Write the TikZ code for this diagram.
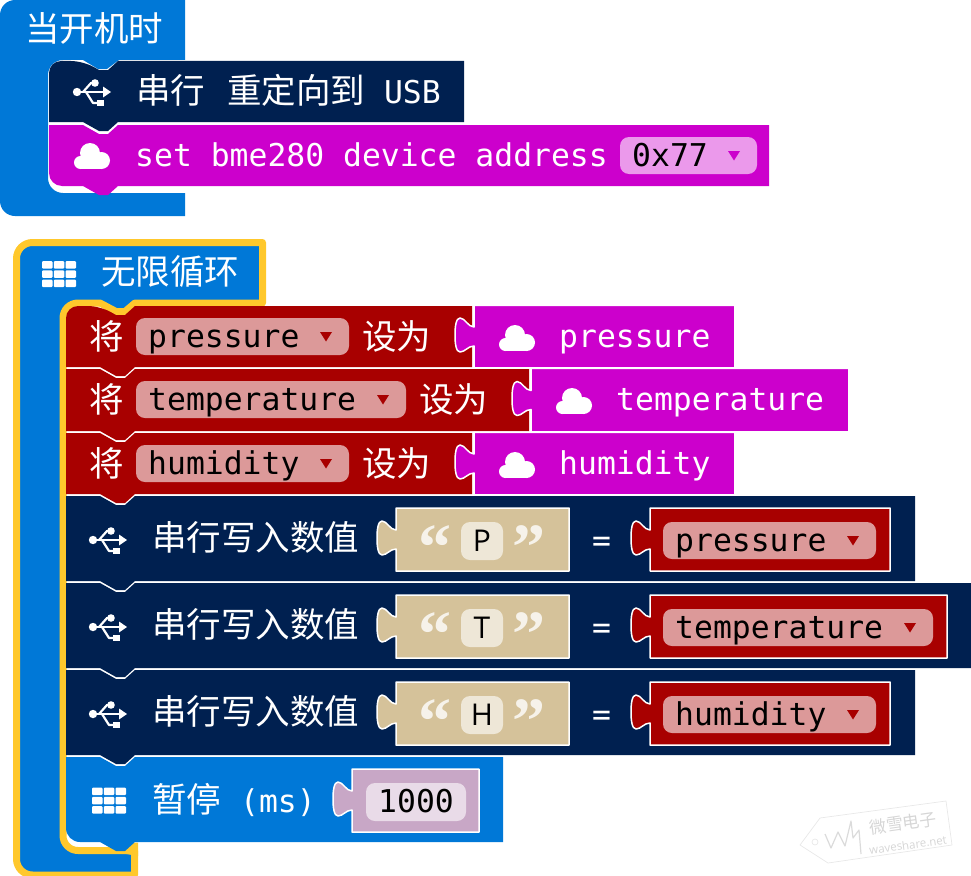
\documentclass[tikz,border=0pt]{standalone}
\usepackage{fontspec}
\setmonofont{DejaVu Sans Mono}
\setsansfont{Open Sans}
\newfontfamily\cjk{Noto Sans CJK SC}
\newfontfamily\quotefont{Liberation Serif}
\definecolor{hatblue}{HTML}{0078D7}
\definecolor{loopyellow}{HTML}{FFC82C}
\definecolor{usbnavy}{HTML}{002050}
\definecolor{varred}{HTML}{A80000}
\definecolor{varfield}{HTML}{DC9999}
\definecolor{cloudpink}{HTML}{CC00CC}
\definecolor{cloudfield}{HTML}{EB99EB}
\definecolor{texttan}{HTML}{D5C29A}
\definecolor{tanfield}{HTML}{EEE7D7}
\definecolor{numpurple}{HTML}{C8A7C6}
\definecolor{numfield}{HTML}{E9DBE8}
\newcommand{\zh}[1]{{\cjk\fontsize{34.5}{36}\selectfont #1}}
\tikzset{
  blocktext/.style={anchor=base west,inner sep=0pt,text=white,font=\ttfamily\fontsize{31.4}{34}\selectfont},
  fieldtext/.style={blocktext,text=black},
  letter/.style={anchor=base,inner sep=0pt,text=black,font=\sffamily\fontsize{30}{34}\selectfont},
  quotemark/.style={anchor=base,inner sep=0pt,text=white,text opacity=0.8,font=\quotefont\bfseries\fontsize{66}{66}\selectfont},
  markfaint/.style={draw=black!9,line width=0.7pt},
  markletter/.style={inner sep=0pt,text=black!16,rotate=8}
}
% stacked block: x, y, w, h, colour, top corner, bottom corner
\newcommand{\stmtblock}[7]{
  \fill[#5] (#1,#2+#4/2) [rounded corners=#6pt] -- (#1,#2) -- (#1+34,#2) [sharp corners] -- (#1+50,#2+9) -- (#1+59,#2+9) -- (#1+69,#2) -- (#1+#3,#2) -- (#1+#3,#2+#4) -- (#1+69,#2+#4) -- (#1+59,#2+#4+9) -- (#1+50,#2+#4+9) -- (#1+34,#2+#4) [rounded corners=#7pt] -- (#1,#2+#4) -- (#1,#2+#4/2) -- cycle;
}
% value block with a puzzle tab: left, top, right, bottom, colour
\newcommand{\valblock}[5]{
  \pgfmathsetmacro{\cy}{(#2+#4)/2}
  \filldraw[fill=#5,draw=white,line width=1.5pt] (#1,#2) -- (#3,#2) -- (#3,#4) -- (#1,#4) -- (#1,\cy+9.5)
    .. controls (#1-6,\cy+9.5) and (#1-9,\cy+15.5) .. (#1-14,\cy+15.5)
    .. controls (#1-18,\cy+15.5) and (#1-19,\cy+7) .. (#1-19,\cy-1.5)
    .. controls (#1-19,\cy-10) and (#1-18,\cy-18.5) .. (#1-14,\cy-18.5)
    .. controls (#1-9,\cy-18.5) and (#1-6,\cy-9.5) .. (#1,\cy-9.5) -- cycle;
}
% dropdown: left, centre y, right, fill, arrow colour, node name, text
\newcommand{\dropfield}[7]{
  \fill[#4,rounded corners=9pt] (#1,#2-18.5) rectangle (#3,#2+18.5);
  \node[fieldtext] (#6) at (#1+12,#2+10.5) {#7};
  \fill[#5] (#3-29,#2-4.5) -- (#3-17,#2-4.5) -- (#3-23,#2+5) -- cycle;
}
\newcommand{\usbicon}[2]{
  \draw[white,line width=2.6pt] (#1-15,#2) -- (#1+12,#2);
  \fill[white] (#1-15,#2) circle (4.2pt);
  \fill[white] (#1+11,#2-5.5) -- (#1+19,#2) -- (#1+11,#2+5.5) -- cycle;
  \draw[white,line width=2.2pt] (#1-9,#2) -- (#1-1,#2-9) -- (#1+3,#2-9);
  \fill[white] (#1+3,#2-9) circle (3.8pt);
  \draw[white,line width=2.2pt] (#1-6,#2) -- (#1+1,#2+11) -- (#1+6,#2+11);
  \fill[white] (#1+5,#2+7.5) rectangle (#1+11.5,#2+14);
}
\newcommand{\cloudicon}[2]{
  \fill[white] (#1-11.5,#2+6.5) circle (6.5pt);
  \fill[white] (#1-2,#2-3) circle (10pt);
  \fill[white] (#1+9.5,#2+4.5) circle (8.5pt);
  \fill[white] (#1-11,#2+2) rectangle (#1+10,#2+13);
}
\newcommand{\gridicon}[2]{
  \foreach \gx in {-17,-5.25,6.5}
  \foreach \gy in {-13,-3.75,5.5}
  \fill[white,rounded corners=1pt] (#1+\gx,#2+\gy) rectangle ++(10.5,7.5);
}
\begin{document}
\begin{tikzpicture}[x=1pt,y=-1pt,line join=round]
\useasboundingbox (0,0) rectangle (971,875);
% hat block
\fill[hatblue] (0,100) [rounded corners=15pt] -- (0,0) -- (90,0) [sharp corners] -- (185,0) -- (185,60) -- (119,60) -- (107,69) -- (98,69) -- (83,60) [rounded corners=15pt] -- (48,60) -- (48,193) -- (100,193) [sharp corners] -- (185,193) -- (185,216) [rounded corners=15pt] -- (0,216) -- (0,100) -- cycle;
\node[blocktext] (hattitle) at (25,41.5) {\zh{当开机时}};
\stmtblock{49}{61}{415}{61}{usbnavy}{12}{0}
\usbicon{92}{92}
\node[blocktext] (usbredirect) at (136,103) {\zh{串行}\hspace{3pt} \zh{重定向到} USB};
\stmtblock{49}{125}{720}{61}{cloudpink}{0}{13}
\cloudicon{92}{156}
\node[blocktext] (setaddress) at (135,166) {set bme280 device address};
\dropfield{620}{155.5}{757}{cloudfield}{cloudpink}{addrfield}{0x77}
% forever block
\filldraw[fill=hatblue,draw=loopyellow,line width=7pt] (16.5,500) [rounded corners=16pt] -- (16.5,242.5) -- (150,242.5) [sharp corners] -- (262.5,242.5) -- (262.5,303) -- (135,303) -- (125,311.5) -- (116,311.5) -- (100,303) [rounded corners=15pt] -- (63,303) -- (63,850.5) -- (100,850.5) [sharp corners] -- (134.5,850.5) -- (134.5,875) [rounded corners=16pt] -- (16.5,875) -- (16.5,500) -- cycle;
\fill[loopyellow] (115,852) -- (135,842.5) -- (138,842.5) -- (138,856) -- cycle;
\node[blocktext] (looptitle) at (101,284.5) {\zh{无限循环}};
\gridicon{59}{274}
% set rows
\foreach \ytop/\hgt/\wid/\vleft/\vright/\vname/\rtop/\tag in {306/61/406/474/734/pressure/12/p,369/62/463/531/848/temperature/0/t,433/61/406/474/734/humidity/0/h}{
  \stmtblock{66}{\ytop}{\wid}{\hgt}{varred}{\rtop}{0}
  \node[blocktext] (jiang\tag) at (89,\ytop+43) {\zh{将}};
  \dropfield{136}{\ytop+30.5}{\vleft-125}{varfield}{varred}{setfield\tag}{\vname}
  \node[blocktext] (shewei\tag) at (\vleft-112,\ytop+43) {\zh{设为}};
  \valblock{\vleft}{\ytop-0.75}{\vright+0.75}{\ytop+\hgt+0.75}{cloudpink}
  \cloudicon{\vleft+43}{\ytop+32}
  \node[blocktext] (cloud\tag) at (\vleft+85,\ytop+41) {\vname};
}
% serial rows
\foreach \ytop/\wid/\ltr/\vright/\vname/\tag in {496/849/P/890/pressure/p,583/905/T/947/temperature/t,670/849/H/890/humidity/h}{
  \stmtblock{66}{\ytop}{\wid}{85}{usbnavy}{0}{0}
  \usbicon{108}{\ytop+44}
  \node[blocktext] (write\tag) at (152,\ytop+54) {\zh{串行写入数值}};
  \valblock{396}{\ytop+12}{569}{\ytop+75}{texttan}
  \node[quotemark] (open\tag) at (435,\ytop+73) {“};
  \fill[tanfield,rounded corners=9pt] (461,\ytop+26) rectangle (503,\ytop+64);
  \node[letter] (key\tag) at (482,\ytop+55) {\ltr};
  \node[quotemark] (close\tag) at (529,\ytop+73) {”};
  \node[blocktext] (equals\tag) at (592,\ytop+55) {=};
  \valblock{650}{\ytop+12}{\vright}{\ytop+75}{varred}
  \dropfield{663}{\ytop+44.5}{\vright-14}{varfield}{varred}{getfield\tag}{\vname}
}
% pause block
\stmtblock{66}{757}{437}{85}{hatblue}{0}{14}
\gridicon{109}{800.5}
\node[blocktext] (pausetext) at (152,812) {\zh{暂停} (ms)};
\valblock{352}{769}{479}{832}{numpurple}
\fill[numfield,rounded corners=9pt] (366,783) rectangle (466,821);
\node[fieldtext] (pausevalue) at (378,812) {1000};
% watermark
\draw[markfaint] (800,845) -- (820,818) -- (946,801) -- (952,845) -- (828,863) -- cycle;
\draw[markfaint] (815,842) circle (3pt);
\draw[black!14,line width=1.2pt] (825,834) -- (831,848) -- (838,832) -- (845,846) -- (851,821) -- (853,838) -- (859,830) -- (861,854);
\node[markletter,font=\cjk\fontsize{17}{17}\selectfont] (markname) at (903,823) {微雪电子};
\node[markletter,font=\sffamily\fontsize{11.5}{12}\selectfont] (marksite) at (908,845) {waveshare.net};
\end{tikzpicture}
\end{document}
